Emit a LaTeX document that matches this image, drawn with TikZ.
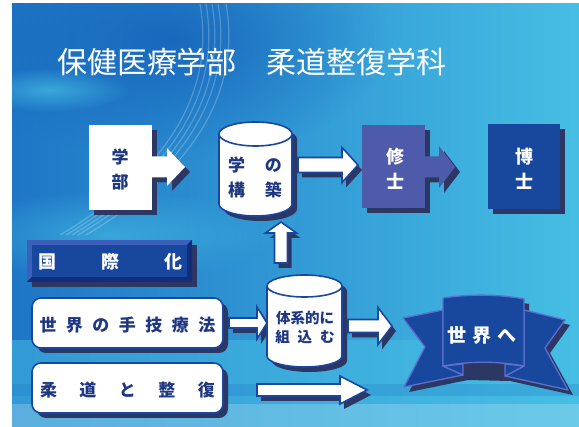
\documentclass[tikz,border=0pt]{standalone}
\usepackage{fontspec}
\usetikzlibrary{fadings}
\newfontfamily\cjk{Noto Sans CJK JP}
\tikzfading[name=myfade, inner color=transparent!0, outer color=transparent!100]
\definecolor{shcol}{RGB}{45,55,100}
\definecolor{navy}{RGB}{30,55,130}
\definecolor{bdr}{RGB}{25,70,160}
\definecolor{dkblue}{RGB}{24,72,158}
\definecolor{midblue}{RGB}{78,90,170}
\definecolor{ribbd}{RGB}{95,110,205}
\definecolor{bgA}{RGB}{30,118,198}
\definecolor{bgB}{RGB}{70,190,228}
\definecolor{bgD}{RGB}{18,90,182}
\definecolor{bevL}{RGB}{60,95,185}
\definecolor{bevD}{RGB}{20,45,120}
\newcommand\rarr[7]{%
  \path[#7] ({#1},{#3-#4}) -- ({#2-#6},{#3-#4}) -- ({#2-#6},{#3-#5}) -- ({#2},{#3})
    -- ({#2-#6},{#3+#5}) -- ({#2-#6},{#3+#4}) -- ({#1},{#3+#4}) -- cycle;}
\newcommand\uarr[7]{%
  \path[#7] ({#1-#4},{#2}) -- ({#1-#4},{#3+#6}) -- ({#1-#5},{#3+#6}) -- ({#1},{#3})
    -- ({#1+#5},{#3+#6}) -- ({#1+#4},{#3+#6}) -- ({#1+#4},{#2}) -- cycle;}
\tikzset{
  cylout/.style n args={5}{insert path={({#1},{#3+#5}) -- ({#1},{#4-#5})
     .. controls ({#1},{#4-#5+0.5523*#5}) and ({(#1+#2)/2-0.5523*(#2-#1)/2},{#4}) .. ({(#1+#2)/2},{#4})
     .. controls ({(#1+#2)/2+0.5523*(#2-#1)/2},{#4}) and ({#2},{#4-#5+0.5523*#5}) .. ({#2},{#4-#5})
     -- ({#2},{#3+#5})
     .. controls ({#2},{#3+#5-0.5523*#5}) and ({(#1+#2)/2+0.5523*(#2-#1)/2},{#3}) .. ({(#1+#2)/2},{#3})
     .. controls ({(#1+#2)/2-0.5523*(#2-#1)/2},{#3}) and ({#1},{#3+#5-0.5523*#5}) .. ({#1},{#3+#5}) -- cycle}},
  cyltop/.style n args={5}{insert path={({#1},{#3+#5})
     .. controls ({#1},{#3+#5+0.5523*#5}) and ({(#1+#2)/2-0.5523*(#2-#1)/2},{#3+2*#5}) .. ({(#1+#2)/2},{#3+2*#5})
     .. controls ({(#1+#2)/2+0.5523*(#2-#1)/2},{#3+2*#5}) and ({#2},{#3+#5+0.5523*#5}) .. ({#2},{#3+#5})}},
  navytxt/.style={text=navy,font=\cjk\bfseries\fontsize{17}{25}\selectfont,inner sep=0pt},
  whtxt/.style={text=white,font=\cjk\bfseries\fontsize{18}{25}\selectfont,inner sep=0pt},
  bline/.style={draw=bdr,line width=1.6pt},
  rbline/.style={draw=ribbd,line width=1.3pt,line join=round},
}
\begin{document}
\begin{tikzpicture}[x=1pt,y=-1pt]
\useasboundingbox (0,0) rectangle (579,427);
\fill[white] (0,0) rectangle (579,427);
% background
\shade[left color=bgA, right color=bgB] (12,4) rectangle (579,427);
\begin{scope}
\clip (12,4) rectangle (579,427);
\fill[bgD,opacity=0.7,path fading=myfade] (170,40) ellipse [x radius=220, y radius=120];
\fill[bgB,opacity=0.7,path fading=myfade] (50,90) ellipse [x radius=80, y radius=22];
\fill[bgB,opacity=0.6,path fading=myfade] (110,235) ellipse [x radius=170, y radius=45];
\end{scope}
\foreach \d in {0,6,12,18,26}{
  \draw[white,opacity=0.22,line width=1.2pt] ({200+\d},4) .. controls ({215+\d},90) and ({170+\d},170) .. ({60+\d},235);
}
\fill[bgB,opacity=0.5] (12,340) rectangle (579,427);
\fill[bgA,opacity=0.25] (12,384) rectangle (579,396);
\fill[white,opacity=0.2] (12,404) rectangle (579,427);
% title
\node[text=white,font=\cjk\fontsize{30}{36}\selectfont,inner sep=0pt] (title) at (252,62) {保健医療学部　柔道整復学科};
% 学部 box with arrow
\fill[shcol,shift={(5,5)}] (89,125) rectangle (152,210);
\rarr{150}{185}{167}{10.5}{19}{18}{fill=shcol,shift={(5,5)}}
\fill[white] (89,125) rectangle (152,210);
\rarr{150}{185}{167}{10.5}{19}{18}{fill=white}
\node[navytxt,align=center] (gakubu) at (120,170) {学\\部};
% cylinder 1
\path[fill=shcol,shift={(5,5)},cylout={219}{292}{122}{216}{12}];
\path[fill=white,bline,cylout={219}{292}{122}{216}{12}];
\path[bline,cyltop={219}{292}{122}{216}{12}];
\node[navytxt,align=center] (kouchiku) at (255,177) {学\hspace{20pt}の\\構\hspace{20pt}築};
% arrow to 修士
\rarr{298}{358}{165}{7.5}{17.5}{16}{fill=shcol,shift={(4,5)}}
\rarr{298}{358}{165}{7.5}{17.5}{16}{fill=white,bline}
% 修士
\fill[shcol,shift={(5,5)}] (362,125) rectangle (425,208);
\rarr{423}{455}{167}{10.5}{21}{16}{fill=shcol,shift={(5,5)}}
\fill[midblue] (362,125) rectangle (425,208);
\rarr{423}{455}{167}{10.5}{21}{16}{fill=midblue}
\node[whtxt,align=center] (shushi) at (395,169) {修\\士};
% 博士
\fill[shcol,shift={(5,5)}] (488,124) rectangle (560,209);
\fill[dkblue] (488,124) rectangle (560,209);
\node[whtxt,align=center] (hakushi) at (524,169) {博\\士};
% 国際化
\fill[shcol,shift={(5,5)}] (27,240) rectangle (192,282);
\fill[bevL] (27,240) rectangle (192,282);
\fill[bevD] (192,240) -- (192,282) -- (27,282) -- (32,277) -- (187,277) -- (187,245) -- cycle;
\fill[dkblue] (32,245) rectangle (187,277);
\node[whtxt] (kokusai) at (110,262) {国\hspace{45pt}際\hspace{45pt}化};
% 世界の手技療法
\fill[shcol,shift={(5,5)},rounded corners=9pt] (32,298) rectangle (223,348);
\fill[white,bline,rounded corners=9pt] (32,298) rectangle (223,348);
\node[navytxt] (shugi) at (127.5,325) {世\hspace{9.5pt}界\hspace{9.5pt}の\hspace{9.5pt}手\hspace{9.5pt}技\hspace{9.5pt}療\hspace{9.5pt}法};
% 柔道と整復
\fill[shcol,shift={(5,5)},rounded corners=9pt] (32,363) rectangle (223,413);
\fill[white,bline,rounded corners=9pt] (32,363) rectangle (223,413);
\node[navytxt] (judo) at (127.5,390) {柔\hspace{22.5pt}道\hspace{22.5pt}と\hspace{22.5pt}整\hspace{22.5pt}復};
% arrow into cylinder 2
\rarr{229}{267}{323}{5}{16}{10}{fill=shcol,shift={(4,5)}}
\rarr{229}{267}{323}{5}{16}{10}{fill=white,bline}
% up arrow
\uarr{281}{263}{222}{6.5}{15.5}{11}{fill=shcol,shift={(4,5)}}
\uarr{281}{263}{222}{6.5}{15.5}{11}{fill=white,bline}
% cylinder 2
\path[fill=shcol,shift={(5,5)},cylout={267}{342}{275}{367}{11}];
\path[fill=white,bline,cylout={267}{342}{275}{367}{11}];
\path[bline,cyltop={267}{342}{275}{367}{11}];
\node[navytxt,font=\cjk\bfseries\fontsize{14.5}{19}\selectfont,align=center] (taikei) at (305,327) {体系的に\\組\hspace{8pt}込\hspace{8pt}む};
% arrows right
\rarr{348}{392}{326}{6.5}{18.5}{14}{fill=shcol,shift={(4,5)}}
\rarr{348}{392}{326}{6.5}{18.5}{14}{fill=white,bline}
\rarr{257}{367}{390}{6}{14}{27}{fill=shcol,shift={(4,5)}}
\rarr{257}{367}{390}{6}{14}{27}{fill=white,bline}
% ribbon
\begin{scope}[shift={(5,5)}]
\fill[shcol] (403,318) -- (443,310) -- (443,298) .. controls (470,294) and (497,294) .. (524,299) -- (524,310) -- (565,320) -- (545,348) -- (568,390) -- (505,376) -- (463,375) -- (404,387) -- (425,347) -- cycle;
\end{scope}
\path[fill=dkblue,rbline] (403,318) -- (443,310) -- (443,366) -- (463,375) -- (404,387) -- (425,347) -- cycle;
\path[fill=dkblue,rbline] (565,320) -- (524,310) -- (524,366) -- (505,376) -- (568,390) -- (545,348) -- cycle;
\path[fill=dkblue,rbline] (443,366) -- (463,375) -- (463,364) -- cycle;
\path[fill=dkblue,rbline] (524,366) -- (505,376) -- (505,364) -- cycle;
\path[fill=dkblue,rbline] (443,298) .. controls (470,294) and (497,294) .. (524,299) -- (524,366) .. controls (497,361) and (470,361) .. (443,366) -- cycle;
\node[whtxt,font=\cjk\bfseries\fontsize{19}{25}\selectfont] (sekai) at (482,335) {世\hspace{6pt}界\hspace{6pt}へ};
\end{tikzpicture}
\end{document}
